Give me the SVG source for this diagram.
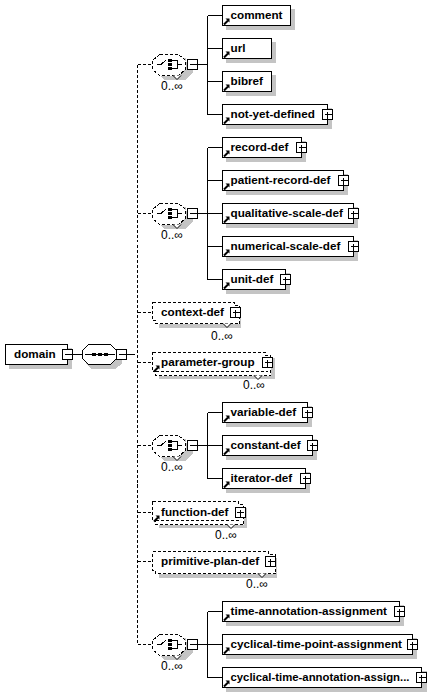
<svg xmlns="http://www.w3.org/2000/svg" width="442" height="693" viewBox="0 0 442 693">
<style>
text{font-family:"Liberation Sans",Arial,sans-serif;fill:#000}
.n{font-size:11.7px;font-weight:bold}
.m{font-size:12px}
.l{fill:none;stroke:#000;stroke-width:1;shape-rendering:crispEdges}
.d{fill:none;stroke:#000;stroke-width:1;stroke-dasharray:3 2;shape-rendering:crispEdges}
.b{fill:#fff;stroke:#000;stroke-width:1;shape-rendering:crispEdges}
.w{fill:#fff;stroke:#000;stroke-width:1;stroke-dasharray:3 2;shape-rendering:crispEdges}
.s{fill:#c4c4c4;stroke:none;shape-rendering:crispEdges}
.c{fill:#fff;stroke:#000;stroke-width:1}
</style>
<defs>
<g id="ref"><path d="M0 6L4 2" stroke="#000" stroke-width="2" fill="none"/><path d="M1.500 0H5.500V4Z" fill="#000"/></g>
<g id="plus"><rect class="b" x="-5" y="-5" width="10" height="10"/><path class="l" d="M-3 0H4M0 -3V4"/></g>
<g id="minus"><rect class="b" x="-5" y="-5" width="10" height="10"/><path class="l" d="M-3 0H4"/></g>
<g id="choice">
<path class="s" d="M8 6H34V10H41V20L33 28H12L5 21Z"/>
<path class="w" d="M7.500 2.500H26.500L33.500 8.500V17.500L26.500 23.500H7.500L.5 17.500V8.500Z"/>
<path class="l" d="M5 12.500H9L14 8M20 8.500H25V16.500H20M25 12.500H30"/>
<path d="M16 7H20V10H16ZM16 11H20V14H16ZM16 15H20V18H16Z" fill="#000"/>
<path class="c" d="M21 23.500L25 27.500L29 23.500"/>
<use href="#minus" x="40.500" y="12.500"/>
</g>
</defs>
<g id="connectors">
<path class="l" d="M72 354.500H82M126 354.500H132"/>
<path class="d" d="M137.500 64.500V644.500M137.500 64.500H152M137.500 213.500H152M137.500 312.500H152M137.500 362.500H152M137.500 445.500H152M137.500 512.500H152M137.500 561.500H152M137.500 644.500H152M132 354.500H137"/>
<path class="l" d="M197 64.500H207M207.500 15.500V114.500M207.500 15.500H222M207.500 48.500H222M207.500 81.500H222M207.500 114.500H222"/>
<path class="l" d="M197 213.500H207M207.500 147.500V279.500M207.500 147.500H222M207.500 180.500H222M207.500 213.500H222M207.500 246.500H222M207.500 279.500H222"/>
<path class="l" d="M197 445.500H207M207.500 412.500V478.500M207.500 412.500H222M207.500 445.500H222M207.500 478.500H222"/>
<path class="l" d="M197 644.500H207M207.500 611.500V677.500M207.500 611.500H222M207.500 644.500H222M207.500 677.500H222"/>
</g>
<g id="domain"><rect class="s" x="9" y="348" width="63" height="21"/><rect class="b" x="5.500" y="344.500" width="62" height="20"/><text class="n" x="14" y="358">domain</text><use href="#minus" x="67.500" y="354.500"/></g>
<g id="sequence"><path class="s" d="M92 349H121V360H122V364L115 369H92L86 364Z"/><path class="b" d="M88.500 344.500H110.500L116.500 350.500V358.500L110.500 364.500H88.500L82.500 358.500V350.500Z"/><path class="l" d="M85 354.500H115"/><path d="M92 353H96V356H92ZM98 353H102V356H98ZM104 353H108V356H104Z" fill="#000"/><use href="#minus" x="121.500" y="354.500"/></g>
<g id="choice-1" transform="translate(152 52)"><use href="#choice"/><text class="m" x="9" y="38">0..∞</text></g>
<g id="comment"><rect class="s" x="226" y="9" width="69" height="21"/><rect class="b" x="222.500" y="5.500" width="68" height="20"/><text class="n" x="230.500" y="19">comment</text><use href="#ref" x="224" y="18.500"/></g>
<g id="url"><rect class="s" x="226" y="42" width="50" height="21"/><rect class="b" x="222.500" y="38.500" width="49" height="20"/><text class="n" x="230.500" y="52">url</text><use href="#ref" x="224" y="51.500"/></g>
<g id="bibref"><rect class="s" x="226" y="75" width="50" height="21"/><rect class="b" x="222.500" y="71.500" width="49" height="20"/><text class="n" x="230.500" y="85">bibref</text><use href="#ref" x="224" y="84.500"/></g>
<g id="not-yet-defined"><rect class="s" x="226" y="108" width="106" height="21"/><rect class="b" x="222.500" y="104.500" width="105" height="20"/><text class="n" x="230.500" y="118">not-yet-defined</text><use href="#ref" x="224" y="117.500"/><use href="#plus" x="327.500" y="114.500"/></g>
<g id="choice-2" transform="translate(152 201)"><use href="#choice"/><text class="m" x="9" y="38">0..∞</text></g>
<g id="record-def"><rect class="s" x="226" y="141" width="80" height="21"/><rect class="b" x="222.500" y="137.500" width="79" height="20"/><text class="n" x="230.500" y="151">record-def</text><use href="#ref" x="224" y="150.500"/><use href="#plus" x="301.500" y="147.500"/></g>
<g id="patient-record-def"><rect class="s" x="226" y="174" width="122" height="21"/><rect class="b" x="222.500" y="170.500" width="121" height="20"/><text class="n" x="230.500" y="184">patient-record-def</text><use href="#ref" x="224" y="183.500"/><use href="#plus" x="343.500" y="180.500"/></g>
<g id="qualitative-scale-def"><rect class="s" x="226" y="207" width="132" height="21"/><rect class="b" x="222.500" y="203.500" width="131" height="20"/><text class="n" x="230.500" y="217">qualitative-scale-def</text><use href="#ref" x="224" y="216.500"/><use href="#plus" x="353.500" y="213.500"/></g>
<g id="numerical-scale-def"><rect class="s" x="226" y="240" width="132" height="21"/><rect class="b" x="222.500" y="236.500" width="131" height="20"/><text class="n" x="230.500" y="250">numerical-scale-def</text><use href="#ref" x="224" y="249.500"/><use href="#plus" x="353.500" y="246.500"/></g>
<g id="unit-def"><rect class="s" x="226" y="273" width="64" height="21"/><rect class="b" x="222.500" y="269.500" width="63" height="20"/><text class="n" x="230.500" y="283">unit-def</text><use href="#ref" x="224" y="282.500"/><use href="#plus" x="285.500" y="279.500"/></g>
<g id="context-def"><rect class="s" x="159" y="308" width="82" height="20"/><path class="w" d="M152.500 302.500H234.500V305.500H239.500V323.500H155.500V320.500H152.500Z"/><text class="n" x="161" y="316">context-def</text><use href="#plus" x="235.500" y="312.500"/><path class="c" d="M223 323.500L227 327.500L231 323.500"/><text class="m" x="211" y="340">0..∞</text></g>
<g id="parameter-group"><rect class="s" x="159" y="358" width="116" height="21"/><path class="w" d="M152.500 352.500H265.500V355.500H270.500V375.500H155.500V371.500H152.500Z"/><path class="d" d="M155.500 371.500H268"/><text class="n" x="161" y="366">parameter-group</text><use href="#ref" x="154" y="365.500"/><use href="#plus" x="267.500" y="362.500"/><path class="c" d="M254 375.500L258 379.500L262 375.500"/><text class="m" x="243" y="389">0..∞</text></g>
<g id="choice-3" transform="translate(152 433)"><use href="#choice"/><text class="m" x="9" y="38">0..∞</text></g>
<g id="variable-def"><rect class="s" x="226" y="406" width="86" height="21"/><rect class="b" x="222.500" y="402.500" width="85" height="20"/><text class="n" x="230.500" y="416">variable-def</text><use href="#ref" x="224" y="415.500"/><use href="#plus" x="307.500" y="412.500"/></g>
<g id="constant-def"><rect class="s" x="226" y="439" width="91" height="21"/><rect class="b" x="222.500" y="435.500" width="90" height="20"/><text class="n" x="230.500" y="449">constant-def</text><use href="#ref" x="224" y="448.500"/><use href="#plus" x="312.500" y="445.500"/></g>
<g id="iterator-def"><rect class="s" x="226" y="472" width="84" height="21"/><rect class="b" x="222.500" y="468.500" width="83" height="20"/><text class="n" x="230.500" y="482">iterator-def</text><use href="#ref" x="224" y="481.500"/><use href="#plus" x="305.500" y="478.500"/></g>
<g id="function-def"><rect class="s" x="159" y="508" width="88" height="20"/><path class="w" d="M152.500 501.500H238.500V504.500H243.500V524.500H155.500V520.500H152.500Z"/><path class="d" d="M155.500 520.500H241"/><text class="n" x="161" y="516">function-def</text><use href="#ref" x="154" y="515.500"/><use href="#plus" x="240" y="512.500"/><path class="c" d="M227 524.500L231 528.500L235 524.500"/><text class="m" x="215" y="539">0..∞</text></g>
<g id="primitive-plan-def"><rect class="s" x="159" y="558" width="118" height="20"/><path class="w" d="M152.500 551.500H268.500V554.500H275.500V573.500H155.500V570.500H152.500Z"/><text class="n" x="161" y="565">primitive-plan-def</text><use href="#plus" x="270.500" y="561.500"/><path class="c" d="M258 573.500L262 577.500L266 573.500"/><text class="m" x="246" y="588">0..∞</text></g>
<g id="choice-4" transform="translate(152 632)"><use href="#choice"/><text class="m" x="9" y="38">0..∞</text></g>
<g id="time-annotation-assignment"><rect class="s" x="226" y="605" width="178" height="21"/><rect class="b" x="222.500" y="601.500" width="177" height="20"/><text class="n" x="230.500" y="615">time-annotation-assignment</text><use href="#ref" x="224" y="614.500"/><use href="#plus" x="399.500" y="611.500"/></g>
<g id="cyclical-time-point-assignment"><rect class="s" x="226" y="638" width="191" height="21"/><rect class="b" x="222.500" y="634.500" width="190" height="20"/><text class="n" x="230.500" y="648">cyclical-time-point-assignment</text><use href="#ref" x="224" y="647.500"/><use href="#plus" x="412.500" y="644.500"/></g>
<g id="cyclical-time-annotation-assign"><rect class="s" x="226" y="671" width="201" height="21"/><rect class="b" x="222.500" y="667.500" width="199" height="20"/><text class="n" x="230.500" y="681" textLength="179" lengthAdjust="spacingAndGlyphs">cyclical-time-annotation-assign...</text><use href="#ref" x="224" y="680.500"/><use href="#plus" x="421.500" y="677.500"/></g>
</svg>
